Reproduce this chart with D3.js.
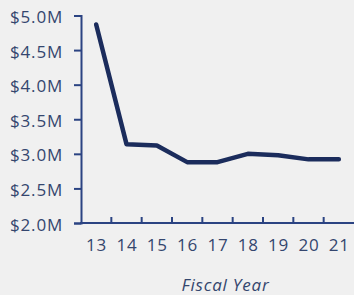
<!DOCTYPE html>
<html>
<head>
<meta charset="utf-8">
<script src="https://cdn.jsdelivr.net/npm/d3@7"></script>
<style>
  body { margin: 0; background: #f0f0f0; }
  svg text { font-family: "Open Sans", sans-serif; fill: #34466e; letter-spacing: 0.8px; }
</style>
</head>
<body>
<div id="chart"></div>
<script>
var years = ["13", "14", "15", "16", "17", "18", "19", "20", "21"];
var amounts = [4.87, 3.14, 3.12, 2.88, 2.88, 3.0, 2.98, 2.92, 2.92];
var yTicks = [2.0, 2.5, 3.0, 3.5, 4.0, 4.5, 5.0];

var width = 354, height = 295;
var plotLeft = 81, plotRight = 354, plotTop = 15.5, plotBottom = 223;

var svg = d3.select("#chart")
			.append("svg")
			.attr("width", width)
			.attr("height", height);

var x = d3.scaleBand()
		  .domain(years)
		  .range([plotLeft, plotRight]);

var y = d3.scaleLinear()
		  .domain([2, 5])
		  .range([plotBottom, plotTop]);

var axisColor = "#2b4382";

// y axis
var yAxis = svg.append("g")
			   .attr("transform", "translate(" + plotLeft + ",0)")
			   .call(d3.axisLeft(y)
					   .tickValues(yTicks)
					   .tickSize(7)
					   .tickPadding(11)
					   .tickFormat(function(d){ return "$" + d.toFixed(1) + "M"; }));
yAxis.select(".domain").attr("stroke", axisColor).attr("stroke-width", 2);
yAxis.selectAll("line").attr("stroke", axisColor).attr("stroke-width", 2);
yAxis.selectAll("text")
	 .attr("font-size", 17)
	 .attr("dy", "0.42em")
	 .style("fill", "#34466e");

// x axis, ticks at band edges pointing up
var xAxis = svg.append("g")
			   .attr("transform", "translate(0," + plotBottom + ")");
xAxis.append("line")
	 .attr("x1", plotLeft - 1).attr("x2", plotRight)
	 .attr("stroke", axisColor).attr("stroke-width", 2);
xAxis.selectAll(".edge")
	 .data(years.slice(1))
	 .enter()
		.append("line")
		.attr("x1", function(d){ return x(d); })
		.attr("x2", function(d){ return x(d); })
		.attr("y1", 0).attr("y2", -6)
		.attr("stroke", axisColor).attr("stroke-width", 2);
xAxis.selectAll(".lbl")
	 .data(years)
	 .enter()
		.append("text")
		.attr("x", function(d){ return x(d) + x.bandwidth() / 2 + 0.4; })
		.attr("y", 28)
		.attr("text-anchor", "middle")
		.attr("font-size", 17)
		.text(function(d){ return d; });

svg.append("text")
   .attr("x", 225.5)
   .attr("y", 290.5)
   .attr("text-anchor", "middle")
   .attr("font-size", 17)
   .attr("font-style", "italic")
   .text("Fiscal Year");

var line = d3.line()
			 .x(function(d, i){ return x(years[i]) + x.bandwidth() / 2; })
			 .y(function(d){ return y(d); });

svg.append("path")
   .datum(amounts)
   .attr("d", line)
   .attr("fill", "none")
   .attr("stroke", "#1b2c5c")
   .attr("stroke-width", 4.5)
   .attr("stroke-linejoin", "round")
   .attr("stroke-linecap", "round");
</script>
</body>
</html>
